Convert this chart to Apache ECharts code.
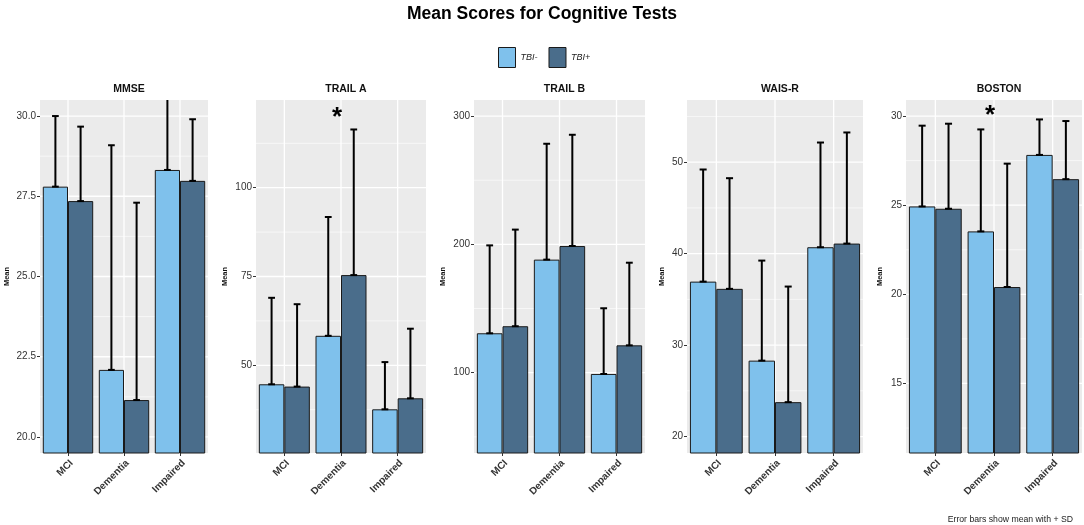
<!DOCTYPE html>
<html>
<head>
<meta charset="utf-8">
<script src="https://cdn.jsdelivr.net/npm/echarts@6/dist/echarts.min.js"></script>
<style>
html,body{margin:0;padding:0;background:#fff;}
#chart{width:1084px;height:525px;}
</style>
</head>
<body>
<div id="chart"></div>
<script>
// ---------- data ----------
const categories = ['MCI', 'Dementia', 'Impaired'];
const groups = ['TBI-', 'TBI+'];
const panelTitles = ['MMSE', 'TRAIL A', 'TRAIL B', 'WAIS-R', 'BOSTON'];

const mmseNeg = [27.8, 22.09, 28.32];
const mmsePos = [27.35, 21.15, 27.98];
const mmseNegSD = [2.2, 7.0, 3.0];
const mmsePosSD = [2.32, 6.15, 1.92];

const trailANeg = [44.65, 58.3, 37.6];
const trailAPos = [44.0, 75.4, 40.7];
const trailANegSD = [24.35, 33.45, 13.3];
const trailAPosSD = [23.2, 41.0, 19.6];

const trailBNeg = [130.7, 188.1, 99.0];
const trailBPos = [136.2, 198.7, 121.3];
const trailBNegSD = [68.5, 90.3, 51.2];
const trailBPosSD = [75.3, 86.7, 64.4];

const waisNeg = [36.94, 28.3, 40.7];
const waisPos = [36.15, 23.76, 41.1];
const waisNegSD = [12.26, 10.94, 11.45];
const waisPosSD = [12.1, 12.64, 12.15];

const bostonNeg = [24.93, 23.53, 27.82];
const bostonPos = [24.8, 20.41, 26.46];
const bostonNegSD = [4.53, 5.72, 1.99];
const bostonPosSD = [4.77, 6.92, 3.26];

// axis ranges and tick labels
const mmseRange = [19.5, 30.5];
const trailARange = [25.3, 124.7];
const trailBRange = [37.4, 312.5];
const waisRange = [18.2, 56.8];
const bostonRange = [11.1, 30.9];

const mmseTicks = [20, 22.5, 25, 27.5, 30];
const trailATicks = [50, 75, 100];
const trailBTicks = [100, 200, 300];
const waisTicks = [20, 30, 40, 50];
const bostonTicks = [15, 20, 25, 30];

const mmseMinor = [21.25, 23.75, 26.25, 28.75];
const trailAMinor = [37.5, 62.5, 87.5, 112.5];
const trailBMinor = [50, 150, 250];
const waisMinor = [25, 35, 45, 55];
const bostonMinor = [12.5, 17.5, 22.5, 27.5];

// significance markers: [category index, value]
const trailASig = [[1, 121.5]];
const bostonSig = [[1, 30.4]];

// ---------- build ----------
const FONT = "'Liberation Sans', Arial, sans-serif";
const colNeg = '#7fc1ec';
const colPos = '#4a6d8b';

const panels = [
  {neg: mmseNeg, pos: mmsePos, negSD: mmseNegSD, posSD: mmsePosSD, range: mmseRange, ticks: mmseTicks, minor: mmseMinor, sig: [], fmt: v => v.toFixed(1), grid: {left: 40, width: 168}, nameGap: 29},
  {neg: trailANeg, pos: trailAPos, negSD: trailANegSD, posSD: trailAPosSD, range: trailARange, ticks: trailATicks, minor: trailAMinor, sig: trailASig, fmt: v => String(v), grid: {left: 256, width: 170}, nameGap: 27},
  {neg: trailBNeg, pos: trailBPos, negSD: trailBNegSD, posSD: trailBPosSD, range: trailBRange, ticks: trailBTicks, minor: trailBMinor, sig: [], fmt: v => String(v), grid: {left: 474, width: 171}, nameGap: 27},
  {neg: waisNeg, pos: waisPos, negSD: waisNegSD, posSD: waisPosSD, range: waisRange, ticks: waisTicks, minor: waisMinor, sig: [], fmt: v => String(v), grid: {left: 687, width: 176}, nameGap: 21},
  {neg: bostonNeg, pos: bostonPos, negSD: bostonNegSD, posSD: bostonPosSD, range: bostonRange, ticks: bostonTicks, minor: bostonMinor, sig: bostonSig, fmt: v => String(v), grid: {left: 906, width: 176}, nameGap: 22}
];

const grids = [], xAxes = [], yAxes = [], series = [], titles = [];

titles.push({
  text: 'Mean Scores for Cognitive Tests', left: 'center', top: 0,
  textStyle: {fontFamily: FONT, fontSize: 17.5, fontWeight: 'bold', color: '#000'}
});
titles.push({
  text: 'Error bars show mean with + SD', right: 6, top: 510,
  textStyle: {fontFamily: FONT, fontSize: 8.7, fontWeight: 'normal', color: '#222'}
});

function gridRender(params, api) {
  const cs = params.coordSys;
  const kind = api.value(2);
  if (kind === 2) {
    const p = api.coord([api.value(0), api.value(1)]);
    return {type: 'line', shape: {x1: p[0], y1: cs.y, x2: p[0], y2: cs.y + cs.height},
      style: {stroke: '#ffffff', lineWidth: 1.3}, silent: true};
  }
  const p = api.coord([0, api.value(1)]);
  return {type: 'line', shape: {x1: cs.x, y1: p[1], x2: cs.x + cs.width, y2: p[1]},
    style: {stroke: '#ffffff', lineWidth: kind === 0 ? 1.3 : 0.6}, silent: true};
}

function errRender(params, api) {
  const cs = params.coordSys;
  const cat = api.value(0);
  const side = api.value(3);
  const bw = api.size([1, 0])[0];
  const base = api.coord([cat, api.value(1)]);
  const topP = api.coord([cat, api.value(2)]);
  const x = base[0] + (side === 0 ? -1 : 1) * bw * 0.225;
  const yb = base[1];
  let yt = topP[1];
  const clipped = yt < cs.y;
  if (clipped) yt = cs.y;
  const hw = bw * 0.06;
  const st = {stroke: '#000', lineWidth: 2};
  const children = [
    {type: 'line', shape: {x1: x, y1: yb, x2: x, y2: yt}, style: st},
    {type: 'line', shape: {x1: x - hw, y1: yb, x2: x + hw, y2: yb}, style: st}
  ];
  if (!clipped) children.push({type: 'line', shape: {x1: x - hw, y1: yt, x2: x + hw, y2: yt}, style: st});
  return {type: 'group', children: children};
}

function sigRender(params, api) {
  const p = api.coord([api.value(0), api.value(1)]);
  const fs = 26;
  return {type: 'text', x: p[0] - 4, y: p[1] + fs * 0.25,
    style: {text: '*', fontSize: fs, fontWeight: 'bold', fontFamily: FONT, fill: '#000', align: 'center', verticalAlign: 'middle'}};
}

panels.forEach((pn, i) => {
  const gridCenter = pn.grid.left + pn.grid.width / 2;
  grids.push({left: pn.grid.left, width: pn.grid.width, top: 100, height: 353,
    show: true, backgroundColor: '#ebebeb', borderWidth: 0, containLabel: false});
  titles.push({
    text: panelTitles[i], left: gridCenter, top: 79, textAlign: 'center',
    textStyle: {fontFamily: FONT, fontSize: 10.5, fontWeight: 'bold', color: '#111'}
  });
  xAxes.push({
    type: 'category', gridIndex: i, data: categories,
    axisLine: {show: false},
    axisTick: {show: true, alignWithLabel: true, length: 3, lineStyle: {color: '#333'}},
    axisLabel: {rotate: 45, margin: 5, fontSize: 10, fontWeight: 'bold', color: '#333', fontFamily: FONT, interval: 0,
      verticalAlign: 'top'},
    splitLine: {show: false}
  });
  yAxes.push({
    type: 'value', gridIndex: i, min: pn.range[0], max: pn.range[1],
    axisLine: {show: false},
    axisTick: {show: true, length: 3, lineStyle: {color: '#333'}, customValues: pn.ticks},
    axisLabel: {fontSize: 10, color: '#333', fontFamily: FONT, margin: 4, customValues: pn.ticks, formatter: pn.fmt},
    splitLine: {show: false},
    name: 'Mean', nameLocation: 'middle', nameGap: pn.nameGap,
    nameTextStyle: {fontSize: 7.5, fontWeight: 'bold', color: '#111', fontFamily: FONT}
  });
  const gdata = [];
  pn.ticks.forEach(v => gdata.push([0, v, 0]));
  pn.minor.forEach(v => gdata.push([0, v, 1]));
  categories.forEach((c, k) => gdata.push([k, pn.range[0], 2]));
  series.push({type: 'custom', xAxisIndex: i, yAxisIndex: i, renderItem: gridRender, data: gdata, z: 1, silent: true,
    encode: {x: 0, y: 1}});
  series.push({
    name: groups[0], type: 'bar', xAxisIndex: i, yAxisIndex: i, data: pn.neg,
    barGap: '0%', barCategoryGap: '10%', z: 2,
    itemStyle: {color: colNeg, borderColor: '#1a1a1a', borderWidth: 1}
  });
  series.push({
    name: groups[1], type: 'bar', xAxisIndex: i, yAxisIndex: i, data: pn.pos,
    barGap: '0%', barCategoryGap: '10%', z: 2,
    itemStyle: {color: colPos, borderColor: '#1a1a1a', borderWidth: 1}
  });
  const edata = [];
  pn.neg.forEach((v, k) => edata.push([k, v, v + pn.negSD[k], 0]));
  pn.pos.forEach((v, k) => edata.push([k, v, v + pn.posSD[k], 1]));
  series.push({type: 'custom', xAxisIndex: i, yAxisIndex: i, renderItem: errRender, data: edata, z: 3, silent: true,
    encode: {x: 0, y: [1, 2]}});
  if (pn.sig.length) {
    series.push({type: 'custom', xAxisIndex: i, yAxisIndex: i, renderItem: sigRender, data: pn.sig, z: 4, silent: true,
      encode: {x: 0, y: 1}});
  }
});

const chart = echarts.init(document.getElementById('chart'), null, {renderer: 'canvas'});
chart.setOption({
  backgroundColor: '#ffffff',
  animation: false,
  title: titles,
  legend: {
    data: groups, left: 498, top: 47, padding: 0, itemWidth: 17, itemHeight: 20, itemGap: 11, icon: 'rect',
    itemStyle: {borderWidth: 1, borderColor: '#1a1a1a'},
    textStyle: {fontFamily: FONT, fontSize: 9, fontStyle: 'italic', color: '#222'}
  },
  grid: grids,
  xAxis: xAxes,
  yAxis: yAxes,
  series: series
});
</script>
</body>
</html>
